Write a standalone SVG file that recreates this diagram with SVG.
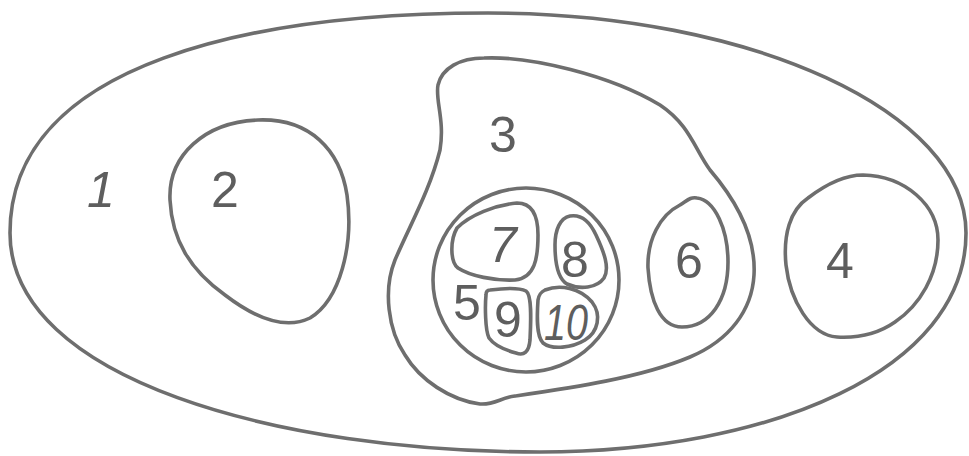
<svg xmlns="http://www.w3.org/2000/svg" width="969" height="456" viewBox="0 0 969 456">
<style>
.r{fill:none;stroke:#6e6e6e;stroke-width:3.6;stroke-linejoin:round}
.t{font-family:"Liberation Sans","DejaVu Sans",sans-serif;font-size:50px;fill:#5e5e5e;text-anchor:middle}
.i{font-style:italic}
</style>
<rect width="969" height="456" fill="#fff"/>
<g id="node-1">
<path class="r" d="M488,13 C752,13 966,112 966,233 C966,370 770,452 540,452 C280,452 10,380 10,233 C10,60 260,13 488,13 Z"/>
<text class="t i" x="101" y="207">1</text>
</g>
<g id="node-2">
<path class="r" d="M258,120 C310,118 340,150 347,195 C354,245 340,300 310,318 C285,330 255,318 225,295 C190,270 172,240 170,200 C168,155 205,122 258,120 Z"/>
<text class="t" x="225" y="207">2</text>
</g>
<g id="node-3">
<path class="r" d="M484,58 C530,56 610,75 660,105 C690,125 695,150 710,170 C740,205 756,240 754,275 C752,310 730,340 690,357 C640,378 570,388 515,396 C500,398 495,405 480,404 C450,400 420,380 405,355 C388,330 383,290 395,260 C410,225 430,190 440,150 C445,120 435,100 438,85 C442,68 460,58 484,58 Z"/>
<text class="t" x="503" y="152">3</text>
</g>
<g id="node-4">
<path class="r" d="M863,175 C905,176 938,205 938,240 C938,275 920,305 895,322 C875,336 855,338 837,337 C810,335 790,300 786,265 C783,235 790,210 808,198 C825,185 843,175 863,175 Z"/>
<text class="t" x="840" y="278">4</text>
</g>
<g id="node-5">
<ellipse class="r" cx="526" cy="280" rx="93" ry="92"/>
<text class="t" x="467" y="320">5</text>
</g>
<g id="node-6">
<path class="r" d="M697,198 C715,200 728,230 728,262 C728,300 710,327 682,327 C660,327 650,300 648,268 C647,240 660,215 680,205 C688,200 690,197 697,198 Z"/>
<text class="t" x="689" y="278">6</text>
</g>
<g id="node-7">
<path class="r" d="M457,228 C470,215 495,205 517,203 C532,203 538,215 538,235 C538,258 535,278 515,280 C495,281 470,276 458,268 C450,262 450,240 457,228 Z"/>
<text class="t i" x="503" y="262">7</text>
</g>
<g id="node-8">
<path class="r" d="M570,216 C582,214 590,222 596,235 C604,252 610,268 604,278 C597,288 580,290 567,284 C557,278 555,262 555,245 C555,230 560,218 570,216 Z"/>
<text class="t" x="575" y="277">8</text>
</g>
<g id="node-9">
<path class="r" d="M490,290 C505,288 520,288 526,291 C532,295 531,320 530,340 C529,352 524,356 516,353 C505,350 494,345 489,338 C485,330 485,305 486,295 C486,291 488,290 490,290 Z"/>
<text class="t" x="508" y="337">9</text>
</g>
<g id="node-10">
<path class="r" d="M545,290 C560,284 580,288 592,302 C602,315 598,332 585,340 C572,348 552,350 543,343 C536,336 537,315 538,300 C539,294 541,292 545,290 Z"/>
<text class="t i" x="566" y="340" textLength="44" lengthAdjust="spacingAndGlyphs">10</text>
</g>
<g id="connectors"/>
</svg>
